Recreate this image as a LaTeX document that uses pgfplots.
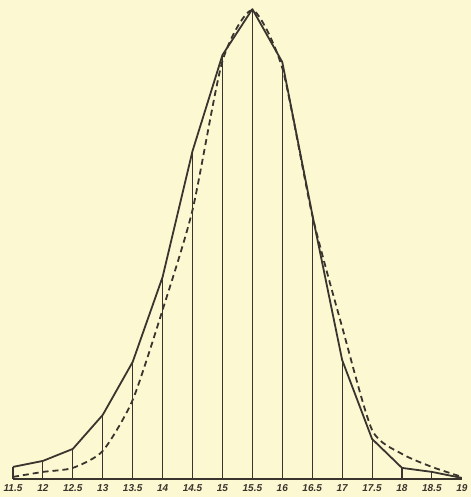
\documentclass[border=0pt]{standalone}
\usepackage{pgfplots}
\pgfplotsset{compat=1.18}
\usepackage{fontspec}
\setmainfont{Liberation Sans}
\usetikzlibrary{backgrounds}
\definecolor{paper}{RGB}{252,249,210}
\definecolor{ink}{RGB}{58,52,46}

% observed frequency polygon (solid) and fitted curve (dashed)
\pgfplotstableread{
x     obs  fit
11.5  12   2
12    18   7
12.5  30   11
13    64   28
13.5  117  79
14    202  169
14.5  328  269
15    424  418
15.5  470  469
16    417  411
16.5  265  264
17    119  152
17.5  40   49
18    11   25
18.5  7    12
19    1    2
}\freq

\begin{document}
\begin{tikzpicture}
\begin{axis}[
  scale only axis,
  width=469pt, height=497pt,
  xmin=11.283, xmax=19.117,
  ymin=-18, ymax=479,
  clip=false,
  axis line style={draw=none},
  major tick length=0pt,
  ytick=\empty,
  xtick={11.5,12,...,19},
  xticklabels={11.5,12,12.5,13,13.5,14,14.5,15,15.5,16,16.5,17,17.5,18,18.5,19},
  x tick label style={anchor=center, yshift=8.5pt, font=\fontsize{10}{10}\selectfont\bfseries\itshape, text=ink},
]
% baseline
\addplot[ink, line width=1.3pt] coordinates {(11.5,0) (19,0)};
% verticals
\addplot[ink, line width=1.1pt, ycomb, mark=none] table[x=x, y=obs] {\freq};
% observed polygon
\addplot[ink, line width=1.8pt, line join=round] table[x=x, y=obs] {\freq};
% fitted curve
\addplot[ink, line width=1.8pt, dash pattern=on 6pt off 4pt, smooth, tension=0.4] table[x=x, y=fit] {\freq};
\end{axis}
\begin{pgfonlayer}{background}
\fill[paper] (current bounding box.south west) rectangle (current bounding box.north east);
\end{pgfonlayer}
\end{tikzpicture}
\end{document}
